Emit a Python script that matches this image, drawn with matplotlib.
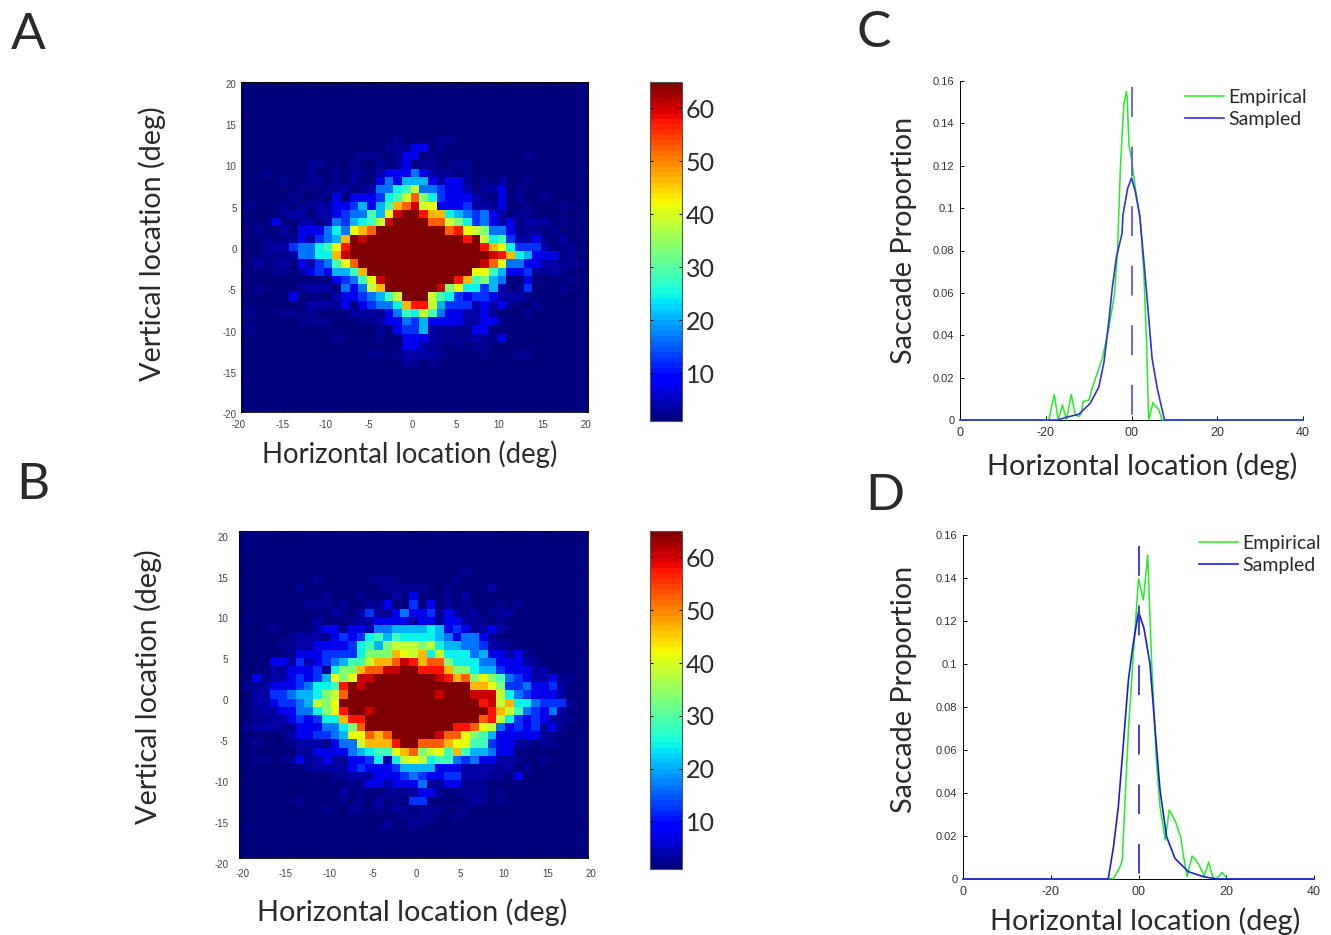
"""Saccade landing maps (A, B) and horizontal marginals (C, D)."""
import matplotlib
matplotlib.use("Agg")
import matplotlib.pyplot as plt
from matplotlib.transforms import ScaledTranslation
import numpy as np

W, H = 1331, 935
FONT = "Lato"
TEXT = "#2a2a2a"

# level codes for the heatmap cells
LEVELS = {".": 1, "1": 2, "2": 3.5, "3": 7, "4": 12, "5": 16, "6": 20, "7": 24, "8": 28,
          "9": 33, "a": 38, "b": 41, "c": 46, "d": 52, "e": 57, "f": 60, "g": 65}

BLANK = "..... ..... ..... ..... ..... ..... ..... ..... ."

# rows run from +20 deg to -20 deg, columns from -20 deg to +20 deg
MAP_A = [BLANK] * 7 + [
    "..... ..... ..... ...1. ...11 ..... ..... ..... .",
    "..... ..... ..... ..111 33.1. ..... ..... ..... .",
    "..... ..... ....1 1..13 3.1.. ..... ...1. ..... .",
    "..... ...11 ...1. .1.13 .11.. 11... ..... ..... .",
    "...1. ...1. .1.11 .2333 53211 .1... ..... ..... .",
    "..... 1..11 .1.2. .3536 66323 31.1. 2..1. ..... .",
    "..... ..1.. 112.1 25578 a5543 32.12 3.1.. ..... .",
    "..... .1..1 .3.33 3478a d9743 3321. 3.1.. 1.... .",
    ".1... 1.112 23346 368cd fab33 34221 3..1. ..1.. .",
    "..... 122.2 23455 86bfg gecc7 65453 2.11. ..... .",
    "....3 ..22. 25467 8afgg ggdda 97453 23.22 2.1.. .",
    "..1.. 2.333 575bc dgggg ggggd eba95 53111 .1... .",
    "...1. 11324 56cgf ggggg ggggg gega7 84223 1.2.. .",
    "...12 24557 8begg ggggg ggggg gggec b7444 2.11. .",
    "...11 12557 7cfgg ggggg ggggg ggggf ec763 33.1. .",
    "..2.1 2.324 58bdg ggggg ggggg gggfd b5533 22111 .",
    "....1 1.234 3668c ggggg ggggg ggbb8 63341 121.. .",
    "..... ..... .3458 bfggg ggggg ec896 5..3. ...1. .",
    "..1.. ..122 2.535 acggg gggf9 b7746 2.14. ..1.. .",
    "..... .3... .2334 568ag gga87 43443 2221. ..... .",
    "..... ...22 213.3 4557c eea64 44232 31..1 ..... .",
    ".1... 11.1. ...22 21358 7a853 32231 ...1. ..... .",
    "..... ..111 1...1 12335 46333 32233 1.... ..... .",
    ".1... ..... ..... .1.34 46211 .133. ..... ..... .",
    "..... ..... .1... .1..3 33211 11211 3.... ..... .",
    "..... ..... ..... ....3 3211. 1.11. ..... ..... .",
    "..... ..... ..... 11.12 2221. ...1. ..11. ..... .",
    "..... ..... ..... ....2 1.1.. ..... ..... ..... .",
] + [BLANK] * 6

MAP_B = [BLANK] * 5 + [
    "..... ..... ..... ..... ..... .1... ..... ..... .",
    "..... ....1 ..... .11.. ..... 1.... ..... ..... .",
    "..... ..1.. ..... ..111 11..1 ....2 ..... ..... .",
    "..... ..... 1...1 ...2. 3...1 .2... ..... ..... .",
    "..... ...11 1.1.. 113.. 4.3.1 .1... 1.1.. ..... .",
    "..... ..... .21.2 41135 33413 212.1 12... ..... .",
    "..... ....2 ...12 23333 23313 3211. 1.... ..... .",
    "....1 ....2 33133 25566 66763 43123 2.... ..... .",
    "..... .1222 13434 78687 77765 35531 ..... ..... .",
    "..... 11223 33347 869aa a9a76 65542 21... ..... .",
    "..... .1333 44447 999cb ac7a7 77563 3231. ..... .",
    "....3 32423 45688 accdf ecdd9 77755 33321 ..... .",
    "....2 13334 1799c ddffg geeec 99766 43332 2.... .",
    "..312 23434 6b9bf fgggg gggfe cd9b9 85432 2311. .",
    ".1123 33457 78egf ggggg ggggg ggccb 94453 342.. .",
    "..224 45667 9adgg ggggg gggfg ggfff a7543 332.. .",
    "..223 4456a 9bggg ggggg ggggg gggef ac775 4441. .",
    "..122 33557 9begg fgggg ggggg gggge ca854 352.. .",
    "..112 23434 77cee ggggg ggggg gggde a7434 3211. .",
    ".1222 11333 5579d ggggg ggggg eedba 53434 231.. .",
    "..... .2334 456bb dcdgg gggfd db986 33333 11... .",
    "..1.. .1222 1355a ccceg gdddc bb884 3321. 11... .",
    "..... ..213 33356 788bc d9ab8 c8665 33... ..... .",
    "..11. 11312 32133 4727a ba788 54533 221.. 1.... .",
    "..... ...12 22234 33346 66633 32222 12.1. ..... .",
    "..... ..... .1122 23334 54334 42221 1.3.. ..... .",
    "..... ..... ...11 33233 35123 3111. ..... ..... .",
    "..... ..... ..2.1 ..111 2331. 1111. 1.... ..... .",
    "..... ..1.. ..1.1 .2.1. 44... ..21. 1.... ..... .",
    "..... ..... 1..11 .1.21 .111. .1... ..... ..... .",
    "..... ..... ..... ....1 111.. 1.... ..... ..... .",
    "..... ..... ..... ..2.. 11... ..... ..... ..... .",
] + [BLANK] * 4

MAP_TICKS = [-20, -15, -10, -5, 0, 5, 10, 15, 20]
CBAR_TICKS = [10, 20, 30, 40, 50, 60]

LINE_XTICKS = [-40, -20, 0, 20, 40]
LINE_XLABELS = ["0", "-20", "00", "20", "40"]
LINE_YTICKS = [0, 0.02, 0.04, 0.06, 0.08, 0.1, 0.12, 0.14, 0.16]
LINE_YLABELS = ["0", "0.02", "0.04", "0.06", "0.08", "0.1", "0.12", "0.14", "0.16"]

C_EMP_X = [-40, -20, -19.3, -18.0, -17.1, -16.1, -15.15, -14.06, -13.1, -12.3, -11.7, -11.3, -9.9,
           -9.2, -6.8, -5.3, -4.0, -3.3, -2.6, -1.8, -1.2, -1.0, -0.6, 0, 0.9, 2.1, 2.9, 3.5,
           4.0, 5.0, 6.4, 7.1, 40]
C_EMP_Y = [0, 0, 0, 0.0121, 0, 0.0071, 0, 0.0121, 0.0024, 0.0016, 0.0031, 0.0087, 0.0094,
           0.0149, 0.0291, 0.0433, 0.059, 0.0779, 0.1188, 0.1487, 0.155, 0.1518, 0.1298, 0.1235,
           0.1093, 0.0936, 0.0684, 0.037, 0, 0.0082, 0.0047, 0, 0]
C_SAM_X = [-40, -17.3, -15.0, -12.3, -9.6, -7.6, -6.4, -5.3, -4.5, -3.5, -2.2, -2.0, -0.9, 0, 0.9,
           1.9, 2.9, 3.7, 4.8, 6.0, 7.7, 40]
C_SAM_Y = [0, 0, 0.0014, 0.0027, 0.0079, 0.0157, 0.0275, 0.0464, 0.0621, 0.0771, 0.0881, 0.0967,
           0.1093, 0.1143, 0.1077, 0.0967, 0.0747, 0.0558, 0.0291, 0.0149, 0, 0]

D_EMP_X = [-40, -7.25, -5.7, -4.2, -3.7, -2.3, -0.8, 0, 1.1, 2.1, 3.0, 4.1, 4.9, 6.1, 7.0, 8.3, 9.6,
           10.4, 11.1, 12.2, 13.6, 15.0, 16.0, 16.9, 17.7, 19.1, 20.1, 23.1, 40]
D_EMP_Y = [0, 0, 0.0003, 0.0057, 0.0088, 0.0693, 0.1158, 0.1398, 0.1298, 0.1507, 0.1003, 0.0538,
           0.0336, 0.0181, 0.0321, 0.0274, 0.0197, 0.0088, 0.0011, 0.0107, 0.0073, 0.0014, 0.0079,
           0.0011, 0, 0.0031, 0.0003, 0, 0]
D_SAM_X = [-40, -6.9, -5.7, -4.6, -3.5, -2.3, -1.3, 0, 1.25, 2.6, 3.8, 4.9, 6.4, 8.3, 11.35, 14.8,
           17.8, 40]
D_SAM_Y = [0, 0, 0.015, 0.0336, 0.0616, 0.0926, 0.1081, 0.1243, 0.1166, 0.1003, 0.0693, 0.0414,
           0.0197, 0.0096, 0.0034, 0.0011, 0, 0]

C_MEAN_TOP = 0.157
D_MEAN_TOP = 0.155


def rect(left, top, right, bottom):
    """Pixel box to figure fractions."""
    return [left / W, 1 - bottom / H, (right - left) / W, (bottom - top) / H]


def label(px, py, text, size, rotation=0):
    plt.figtext(px / W, 1 - py / H, text, fontsize=size, rotation=rotation, ha="center",
                va="center", family=FONT, color=TEXT)


def decode(rows):
    return np.array([[LEVELS[c] for c in r.replace(" ", "")] for r in rows], dtype=float)


def shift(fig, labels, dx, dy):
    """Nudge tick labels by a few pixels, the source figure has them slightly off."""
    for t in labels:
        t.set_transform(t.get_transform() + ScaledTranslation(dx / 100, dy / 100, fig.dpi_scale_trans))


def draw_map(fig, rows, box, cbar_box, xpad, ypad, xshift, yshift):
    ax = fig.add_axes(rect(*box))
    im = ax.imshow(decode(rows), cmap=plt.get_cmap("jet", 64), vmin=1, vmax=65, aspect="auto",
                   extent=[-20.5, 20.5, -20.5, 20.5], interpolation="nearest")
    ax.set_xlim(-20, 20)
    ax.set_ylim(-20, 20)
    ax.set_xticks(MAP_TICKS)
    ax.set_yticks(MAP_TICKS)
    ax.set_xticklabels([str(t) for t in MAP_TICKS])
    ax.set_yticklabels([str(t) for t in MAP_TICKS])
    ax.tick_params(direction="in", length=2.5, width=0.6, top=True, right=True, labelsize=7,
                   labelcolor="#444444")
    ax.tick_params(axis="x", pad=xpad)
    ax.tick_params(axis="y", pad=ypad)
    for t in ax.get_xticklabels() + ax.get_yticklabels():
        t.set_family("Liberation Sans")
    shift(fig, ax.get_xticklabels(), xshift, 0)
    shift(fig, ax.get_yticklabels(), 0, yshift)
    for s in ax.spines.values():
        s.set_linewidth(0.6)

    cax = fig.add_axes(rect(*cbar_box))
    cb = fig.colorbar(im, cax=cax, ticks=CBAR_TICKS)
    cb.ax.tick_params(direction="in", length=2.5, width=0.7, labelsize=18, pad=3, labelcolor=TEXT,
                      left=True, right=True)
    for t in cb.ax.get_yticklabels():
        t.set_family(FONT)
    cb.outline.set_linewidth(0.8)
    cb.outline.set_edgecolor("#555555")


def draw_line(fig, box, emp, sam, mean_top, sam_color, mean_color, legend_anchor):
    ax = fig.add_axes(rect(*box))
    ax.plot(emp[0], emp[1], color="#22ee22", lw=1.1, label="Empirical", clip_on=False, zorder=3)
    ax.plot(sam[0], sam[1], color=sam_color, lw=1.2, label="Sampled", clip_on=False, zorder=3)
    ax.plot([0, 0], [mean_top, 0], color=mean_color, lw=1.3, dashes=(16.5, 16.5), zorder=3)
    ax.set_xlim(-40, 40)
    ax.set_ylim(0, 0.16)
    ax.set_xticks(LINE_XTICKS)
    ax.set_xticklabels(LINE_XLABELS)
    ax.set_yticks(LINE_YTICKS)
    ax.set_yticklabels(LINE_YLABELS)
    ax.spines["top"].set_visible(False)
    ax.spines["right"].set_visible(False)
    ax.patch.set_alpha(0)
    for s in ax.spines.values():
        s.set_linewidth(0.7)
    ax.tick_params(direction="in", length=3, width=0.7, labelsize=8, pad=4, labelcolor="#333333")
    ax.tick_params(axis="x", labelsize=9, pad=5)
    for t in ax.get_xticklabels() + ax.get_yticklabels():
        t.set_family("Liberation Sans")
    leg = ax.legend(loc="upper left", bbox_to_anchor=legend_anchor, frameon=False, handlelength=2.0,
                    handletextpad=0.22, labelspacing=0.24, borderpad=0, borderaxespad=0,
                    prop={"family": FONT, "size": 14})
    for t in leg.get_texts():
        t.set_color(TEXT)


def main():
    fig = plt.figure(figsize=(W / 100, H / 100), dpi=100)

    draw_map(fig, MAP_A, (240.7, 82, 588, 412), (650, 82, 681.7, 420.7), 6, 3, -2, -2)
    draw_map(fig, MAP_B, (239.3, 530.7, 588.3, 857.7), (650, 531, 681.7, 869), 8, 8, 3, -6)

    draw_line(fig, (960, 81, 1303, 420), (C_EMP_X, C_EMP_Y), (C_SAM_X, C_SAM_Y), C_MEAN_TOP,
              "#3030e6", "#5a5af0", (0.656, 0.976))
    draw_line(fig, (963, 535, 1314, 879), (D_EMP_X, D_EMP_Y), (D_SAM_X, D_SAM_Y), D_MEAN_TOP,
              "#1c1ce0", "#3030e6", (0.672, 1.0))

    for px, py, letter in [(28, 35, "A"), (33, 485, "B"), (874, 33, "C"), (885, 496, "D")]:
        label(px, py, letter, 37)

    label(410, 454, "Horizontal location (deg)", 19.8)
    label(412, 912, "Horizontal location (deg)", 20.8)
    label(1142, 466, "Horizontal location (deg)", 20.8)
    label(1145, 921, "Horizontal location (deg)", 20.8)
    label(152, 244, "Vertical location (deg)", 20.7, 90)
    label(148, 687, "Vertical location (deg)", 20.7, 90)
    label(904, 240, "Saccade Proportion", 20.7, 90)
    label(904, 689, "Saccade Proportion", 20.7, 90)

    fig.savefig("out.png", dpi=100)


if __name__ == "__main__":
    main()
